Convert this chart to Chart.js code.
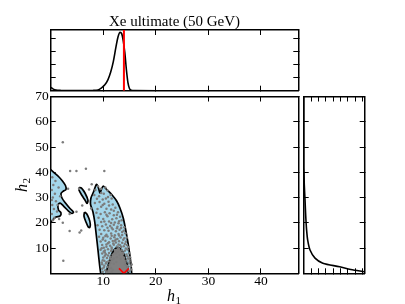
<!DOCTYPE html>
<html>
<head>
<meta charset="utf-8">
<script src="https://cdn.jsdelivr.net/npm/chart.js@4.4.0/dist/chart.umd.min.js"></script>
<style>
  html, body { margin: 0; padding: 0; background: #fff; }
  #wrap { position: relative; width: 405px; height: 304px; }
  #wrap canvas { position: absolute; left: 0; top: 0; }
</style>
</head>
<body>
<div id="wrap">
  <canvas id="mainChart" width="405" height="304"></canvas>
  <canvas id="topChart" width="405" height="304"></canvas>
  <canvas id="sideChart" width="405" height="304"></canvas>
</div>
<script>
var titleText = 'Xe ultimate (50 GeV)';
var h1Ticks = [10, 20, 30, 40];
var h2Ticks = [10, 20, 30, 40, 50, 60, 70];
var h2SideTicks = [10, 20, 30, 40, 50, 60];
var topDensTicks = [1, 2, 3, 4];
var sideDensTicks = [1, 2, 3, 4, 5, 6, 7, 8];
var h1Max = 47.1, h2Max = 70;
var topDensMax = 4.63, sideDensMax = 8.3;
var trueH1 = 13.93, trueH2 = 0;

// marginal of h1 (top panel)
var topH1 = [0, 0.5, 1, 2, 4, 6, 8, 9, 9.6, 10.3, 10.9, 11.4, 11.9, 12.4, 12.8, 13.2, 13.5, 13.8, 14.1, 14.4, 14.7, 15.0, 15.3, 16, 20, 30, 40, 47.1];
var topDensity = [0.26, 0.12, 0.05, 0.02, 0.01, 0.01, 0.02, 0.06, 0.2, 0.45, 0.85, 1.4, 2.2, 3.3, 4.1, 4.45, 4.35, 3.8, 2.9, 1.6, 0.6, 0.15, 0.04, 0.01, 0, 0, 0, 0];

// marginal of h2 (right panel)
var sideH2 = [0, 0.6, 1.5, 2.6, 4, 6, 9.2, 13, 17, 23, 29, 35, 39.6, 42, 70];
var sideDensity = [9.5, 8.3, 6.4, 4.9, 2.6, 1.54, 0.86, 0.55, 0.4, 0.27, 0.18, 0.08, 0.04, 0, 0];

// contours [h1, h2]
var outerBand = [[9.51, 0], [9.32, 2.89], [8.99, 9.22], [8.67, 15.16], [8.38, 20.31], [8.04, 24.27], [7.57, 27.43], [7.66, 29.81], [8.14, 32.19], [8.71, 35.15], [9.09, 33.77], [9.37, 31.79], [9.66, 33.37], [10.0, 34.56], [10.65, 33.17], [11.6, 31.2], [12.55, 28.62], [13.17, 25.85], [13.8, 21.89], [14.41, 15.56], [14.98, 8.43], [15.27, 3.68], [15.4, 0]];
var innerCore = [[10.51, 0], [10.89, 2.89], [11.46, 6.85], [12.03, 9.22], [12.6, 10.21], [13.17, 9.82], [13.74, 8.43], [14.31, 5.27], [14.69, 2.1], [14.79, 0]];
var leftBlob = [[0, 41.09], [0.63, 39.9], [1.48, 38.32], [2.24, 36.54], [2.81, 34.76], [2.91, 33.17], [2.43, 32.58], [1.96, 31.59], [2.15, 29.81], [2.81, 27.83], [3.67, 25.65], [4.33, 24.27], [4.05, 23.67], [3.38, 24.66], [2.53, 26.44], [1.77, 27.83], [1.39, 27.04], [1.48, 25.06], [1.96, 23.87], [1.77, 22.68], [1.01, 22.29], [0.44, 21.3], [0, 20.31]];
var tongue = [[5.38, 33.97], [5.86, 33.77], [6.52, 31.79], [7.09, 28.9], [6.9, 27.63], [6.55, 28.9], [5.95, 30.8], [5.38, 32.98]];
var islet = [[6.43, 24.27], [6.81, 23.67], [7.28, 21.69], [7.53, 19.52], [7.43, 18.13], [7.15, 18.33], [6.71, 20.31], [6.33, 22.68]];

// sampled points [h1, h2]
var samples = [
  [2.3, 51.9], [3.7, 40.5], [4.9, 40.5], [6.7, 41.4], [10.2, 40.5], [5.4, 33.5], [7.8, 35.3], [7.3, 33.2], [3.3, 33.5],
  [2.4, 5.0], [3.6, 16.7], [5.5, 16.2], [5.8, 16.9], [2.3, 20], [4.9, 24.4], [3.6, 23.5], [7.7, 25.7], [6.0, 26.8],
  [0.3, 38], [0.5, 35], [0.2, 33], [0.8, 31.5], [0.4, 30], [1.0, 28.5], [0.3, 27], [0.6, 25.5], [1.2, 24.5], [0.2, 23.5],
  [0.7, 22], [0.4, 21], [1.5, 34], [1.8, 30.5], [0.9, 36.5], [0.2, 29], [1.3, 27], [1.6, 21.5],
  [9.0, 34.5], [9.6, 33.5], [10.4, 34], [10.8, 32.8], [8.5, 33],
  [8.3, 31], [9.2, 30.5], [10.1, 31.5], [10.9, 30.2], [11.4, 31], [8.8, 29.5], [9.9, 29.2], [11.6, 29.6],
  [8.4, 27.8], [9.3, 28.2], [10.2, 27.5], [11.0, 28.3], [11.8, 27.2], [12.3, 26], [9.6, 26.3], [10.6, 25.6], [8.9, 25.5], [11.5, 25.3],
  [8.7, 24], [9.5, 23.5], [10.3, 24.2], [11.2, 23.8], [12.0, 23], [12.8, 24.2], [9.1, 22], [10.0, 21.5], [10.8, 22.6], [11.7, 21.4],
  [12.5, 21.8], [13.2, 22.4], [9.6, 20.3], [11.1, 20.5], [12.2, 20.1], [13.0, 20.6], [13.5, 21],
  [8.9, 19], [9.8, 18.6], [10.5, 19.3], [11.3, 18.7], [12.0, 19.2], [12.7, 18.4], [13.4, 19], [9.3, 17.2], [10.2, 17], [11.0, 16.8],
  [11.8, 17.4], [12.4, 16.6], [13.1, 17.2], [13.9, 16.8], [9.6, 15.6], [10.6, 15.3], [11.5, 15.8], [12.2, 15.1], [12.9, 15.6], [13.6, 15.2], [14.2, 15.9],
  [9.2, 14.5], [10.0, 14.1], [10.8, 14.6], [11.4, 13.8], [12.1, 14.3], [12.7, 13.6], [13.3, 14.2], [14.0, 13.9], [9.5, 12.6], [10.4, 12.9],
  [11.1, 12.3], [11.8, 12.8], [12.4, 12.2], [13.0, 12.7], [13.6, 12.1], [14.3, 12.5], [9.8, 11.2], [10.6, 11.4], [11.3, 10.9], [12.0, 11.3],
  [12.6, 10.6], [13.2, 11.1], [13.9, 10.7], [14.5, 11.2], [10.1, 10.1], [11.6, 10.2], [12.9, 9.9],
  [9.5, 9.3], [10.3, 9.0], [10.9, 9.5], [11.5, 8.8], [12.2, 9.2], [12.8, 8.5], [13.5, 9.1], [14.1, 8.9], [14.6, 9.4], [9.8, 7.8],
  [10.5, 7.5], [11.1, 8.0], [11.8, 7.3], [12.4, 7.9], [13.1, 7.2], [13.8, 7.7], [14.4, 7.4], [14.9, 7.9], [10.0, 6.3], [10.7, 6.1],
  [11.4, 6.6], [12.0, 5.9], [12.6, 6.4], [13.3, 5.8], [14.0, 6.2], [14.7, 5.9], [10.2, 5.0], [11.0, 4.8], [11.7, 5.3], [14.4, 5.1], [15.0, 5.4],
  [9.8, 3.6], [10.5, 3.9], [11.2, 3.4], [12.0, 3.8], [14.2, 3.5], [14.9, 3.9], [10.1, 2.3], [10.8, 2.6], [11.5, 2.1], [14.6, 2.4],
  [15.2, 2.8], [10.4, 1.2], [11.0, 0.9], [11.8, 1.4], [14.3, 1.1], [14.9, 0.8], [9.9, 0.6], [12.5, 4.5],
  [10.3, 8.2], [10.9, 7.0], [11.6, 9.6], [12.3, 8.4], [13.0, 9.5], [13.7, 8.2], [14.3, 9.8], [10.6, 10.5], [11.9, 11.8], [13.4, 10.4],
  [14.1, 11.6], [12.2, 12.9], [12.9, 11.4], [10.9, 11.9], [9.9, 13.4], [13.8, 13.3], [11.6, 14.9], [12.4, 13.4], [10.4, 14.8], [13.0, 15.0],
  [9.7, 9.9], [10.1, 8.6], [14.8, 10.4], [14.6, 6.8], [15.1, 6.4], [14.2, 4.3], [15.0, 4.6], [14.5, 3.0], [15.3, 1.5], [14.7, 1.6],
  [10.6, 4.4], [11.3, 5.8], [10.3, 6.9], [9.9, 5.2], [9.7, 4.3], [10.2, 3.0], [11.4, 4.2], [11.1, 1.7], [10.6, 0.4], [11.6, 0.5],
  [9.8, 1.8], [15.4, 3.5], [13.6, 16.4], [12.6, 17.8], [11.6, 18.0], [10.8, 18.0], [14.5, 14.2], [14.0, 18.2], [12.9, 19.8], [11.5, 19.9],
  [10.2, 20.5], [10.6, 23.2], [12.0, 24.8], [11.1, 26.8], [9.9, 27.0], [10.5, 29.6], [9.6, 31.8], [12.6, 23.2], [13.4, 17.9]
];

var serif = "'Liberation Serif', 'Times New Roman', serif";

function frameAxis(pos, min, max, ticks, size, showLabels, pad) {
  return {
    type: 'linear', position: pos, min: min, max: max,
    afterBuildTicks: function (s) { s.ticks = ticks.map(function (v) { return { value: v }; }); },
    afterFit: function (s) { if (s.isHorizontal()) { s.height = size; } else { s.width = size; } },
    grid: { drawOnChartArea: false, drawTicks: true, tickLength: -5, tickColor: '#000', tickWidth: 1 },
    border: { display: true, color: '#000', width: 1.5 },
    ticks: { display: showLabels, padding: pad || 0, color: '#000', font: { family: serif, size: 13.5 } }
  };
}

function pts(list) {
  return list.map(function (p) { return { x: p[0], y: p[1] }; });
}

function contour(list, color, closeIt) {
  var data = pts(list);
  if (closeIt) data.push(data[0]);
  return {
    data: data, showLine: true, fill: 'shape', backgroundColor: color,
    borderColor: '#000', borderWidth: 1.7, pointRadius: 0, tension: 0.3, clip: 0
  };
}

// axis labels with subscripts
var axisLabels = {
  id: 'axisLabels',
  afterDraw: function (chart) {
    var ctx = chart.ctx;
    ctx.save();
    ctx.fillStyle = '#000';
    ctx.textBaseline = 'alphabetic';
    ctx.font = 'italic 16px ' + serif;
    ctx.fillText('h', 167, 301);
    ctx.font = '11px ' + serif;
    ctx.fillText('1', 175.5, 304);
    ctx.translate(26.5, 192);
    ctx.rotate(-Math.PI / 2);
    ctx.font = 'italic 16px ' + serif;
    ctx.fillText('h', 0, 0);
    ctx.font = '11px ' + serif;
    ctx.fillText('2', 8.5, 3);
    ctx.restore();
  }
};

var commonOpts = {
  responsive: false, animation: false, events: [],
  layout: { padding: 0 },
  plugins: { legend: { display: false }, tooltip: { enabled: false }, filler: { drawTime: 'beforeDatasetsDraw' } }
};

var mainChart = new Chart(document.getElementById('mainChart'), {
  type: 'scatter',
  data: {
    datasets: [
      { data: [{ x: trueH1, y: trueH2 }], pointStyle: 'crossRot', pointRadius: 7, borderColor: '#ff0000', borderWidth: 1.6, clip: 0 },
      { data: pts(samples), pointRadius: 1.25, backgroundColor: '#7c7c7c', borderWidth: 0, clip: 0 },
      contour(innerCore, '#808080', false),
      contour(outerBand, '#a4d6ea', false),
      contour(islet, '#a4d6ea', true),
      contour(tongue, '#a4d6ea', true),
      contour(leftBlob, '#a4d6ea', false)
    ]
  },
  options: Object.assign({}, commonOpts, {
    scales: {
      x: frameAxis('bottom', 0, h1Max, h1Ticks, 30.7, true, 5),
      xTop: frameAxis('top', 0, h1Max, h1Ticks, 96.5, false),
      y: frameAxis('left', 0, h2Max, h2Ticks, 50.7, true, 7),
      yRight: frameAxis('right', 0, h2Max, h2Ticks, 106.7, false)
    }
  }),
  plugins: [axisLabels]
});

var topScales = {
  x: frameAxis('bottom', 0, h1Max, h1Ticks, 213.3, false),
  xTop: frameAxis('top', 0, h1Max, h1Ticks, 30, false),
  y: frameAxis('left', 0, topDensMax, topDensTicks, 50.7, false),
  yRight: frameAxis('right', 0, topDensMax, topDensTicks, 106.7, false)
};
topScales.xTop.title = { display: true, text: titleText, color: '#000', font: { family: serif, size: 15 }, padding: { top: 13.5, bottom: 0 } };

var topChart = new Chart(document.getElementById('topChart'), {
  type: 'scatter',
  data: {
    datasets: [
      { data: [{ x: trueH1, y: 0 }, { x: trueH1, y: topDensMax }], showLine: true, borderColor: '#ff0000', borderWidth: 2, pointRadius: 0, clip: 0 },
      { data: topH1.map(function (v, i) { return { x: v, y: topDensity[i] }; }), showLine: true, borderColor: '#000', borderWidth: 1.6, pointRadius: 0, cubicInterpolationMode: 'monotone', clip: 0 }
    ]
  },
  options: Object.assign({}, commonOpts, { scales: topScales })
});

var sideChart = new Chart(document.getElementById('sideChart'), {
  type: 'scatter',
  data: {
    datasets: [
      { data: sideH2.map(function (v, i) { return { x: sideDensity[i], y: v }; }), showLine: true, borderColor: '#000', borderWidth: 1.6, pointRadius: 0, tension: 0.3, clip: 0 }
    ]
  },
  options: Object.assign({}, commonOpts, {
    scales: {
      x: frameAxis('bottom', 0, sideDensMax, sideDensTicks, 30.7, false),
      xTop: frameAxis('top', 0, sideDensMax, sideDensTicks, 96.5, false),
      y: frameAxis('left', 0, h2Max, h2SideTicks, 303.7, false),
      yRight: frameAxis('right', 0, h2Max, h2SideTicks, 40.3, false)
    }
  })
});
</script>
</body>
</html>
